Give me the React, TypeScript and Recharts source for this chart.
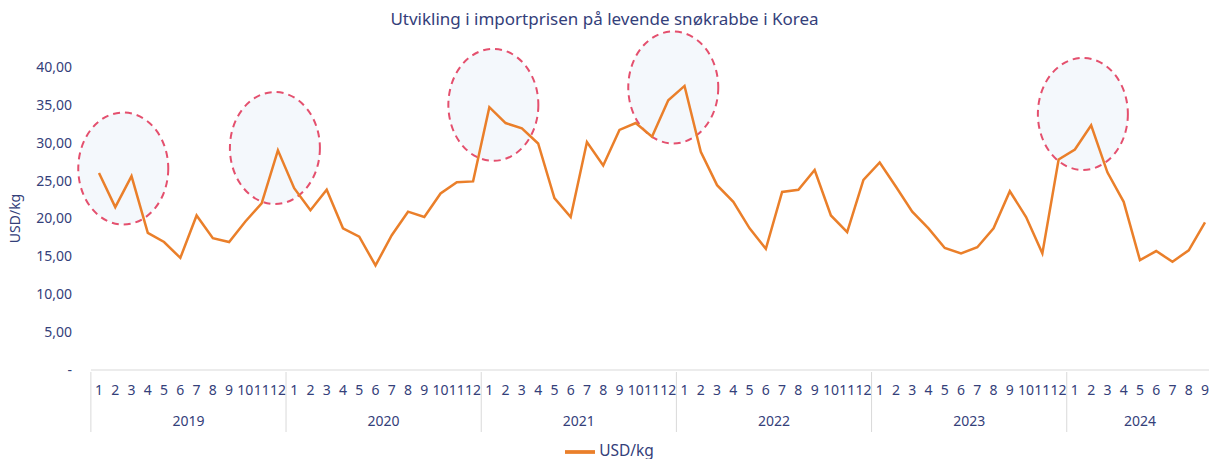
import React from "react";
import { LineChart, Line, XAxis, YAxis, Legend, ReferenceDot } from "recharts";

const years = [2019, 2020, 2021, 2022, 2023, 2024];
const monthsInYear = [12, 12, 12, 12, 12, 9];

const price2019 = [26.0, 21.5, 25.6, 18.1, 16.9, 14.8, 20.4, 17.4, 16.9, 19.6, 22.0, 29.0];
const price2020 = [24.0, 21.1, 23.8, 18.7, 17.6, 13.8, 17.8, 20.9, 20.2, 23.3, 24.8, 24.9];
const price2021 = [34.7, 32.6, 31.9, 29.9, 22.7, 20.2, 30.1, 27.0, 31.7, 32.6, 30.8, 35.6];
const price2022 = [37.5, 28.8, 24.4, 22.2, 18.7, 16.0, 23.5, 23.8, 26.4, 20.4, 18.2, 25.1];
const price2023 = [27.4, 24.2, 20.9, 18.7, 16.1, 15.4, 16.2, 18.7, 23.6, 20.2, 15.4, 27.8];
const price2024 = [29.1, 32.3, 26.1, 22.2, 14.5, 15.7, 14.3, 15.8, 19.5];

const yTicks = [0, 5, 10, 15, 20, 25, 30, 35, 40];

// highlighted peaks: anchor month, value at ellipse centre, small pixel nudge
const highlights = [
  { key: "2019-2", value: 26.6, dx: 8 },
  { key: "2019-12", value: 29.3, dx: -3 },
  { key: "2021-1", value: 35.0, dx: 4 },
  { key: "2021-12", value: 37.3, dx: 5 },
  { key: "2024-1", value: 33.8, dx: 8 },
];

const allPrices = [price2019, price2020, price2021, price2022, price2023, price2024];

const data = years.flatMap((yr, i) =>
  allPrices[i].slice(0, monthsInYear[i]).map((v, m) => ({ key: `${yr}-${m + 1}`, price: v }))
);

const W = 1209;
const H = 459;
const Y_W = 91;
const PAD_L = 8;
const PAD_R = 4;
const HALF = (W - Y_W - PAD_L - PAD_R) / (data.length - 1) / 2;
const NAVY = "#34407a";
const FONT = "'Noto Sans', sans-serif";

function fmtY(v: number) {
  if (v === 0) return "-";
  return v.toFixed(2).replace(".", ",");
}

function MonthTick(props: any) {
  const { x, y, payload } = props;
  const [yr, mo] = String(payload.value).split("-").map(Number);
  const n = monthsInYear[years.indexOf(yr)];
  let yearX: number | null = null;
  if (n % 2 === 0 && mo === n / 2) yearX = x + HALF;
  if (n % 2 === 1 && mo === (n + 1) / 2) yearX = x;
  return (
    <g>
      <text x={x} y={y + 23} textAnchor="middle" fontSize={14} fill={NAVY} fontFamily={FONT}>
        {mo}
      </text>
      {mo === 1 && (
        <line x1={x - HALF} x2={x - HALF} y1={y} y2={y + 60} stroke="#d9d9d9" strokeWidth={1} />
      )}
      {yearX !== null && (
        <text x={yearX} y={y + 54} textAnchor="middle" fontSize={14} fill={NAVY} fontFamily={FONT}>
          {yr}
        </text>
      )}
    </g>
  );
}

function ring(dx: number) {
  return (p: any) => (
    <ellipse
      cx={p.cx + dx}
      cy={p.cy}
      rx={45}
      ry={56}
      fill="#f4f8fc"
      stroke="#e4506e"
      strokeWidth={2}
      strokeDasharray="7 5"
    />
  );
}

export default function App() {
  return (
    <div style={{ position: "absolute", left: 0, top: 0, width: W, height: H, background: "#fff" }}>
      <div
        style={{
          position: "absolute",
          top: 8,
          width: W,
          textAlign: "center",
          fontFamily: FONT,
          fontSize: 17,
          lineHeight: "22px",
          color: NAVY,
        }}
      >
        Utvikling i importprisen på levende snøkrabbe i Korea
      </div>
      <LineChart width={W} height={H} data={data} margin={{ top: 67, right: 0, left: 0, bottom: 7 }}>
        <XAxis
          dataKey="key"
          interval={0}
          padding={{ left: PAD_L, right: PAD_R }}
          tickLine={false}
          tickSize={0}
          axisLine={{ stroke: "#d9d9d9" }}
          tick={<MonthTick />}
          height={60}
        />
        <YAxis
          domain={[0, 40]}
          ticks={yTicks}
          width={Y_W}
          axisLine={false}
          tickLine={false}
          tickSize={0}
          tickMargin={19}
          tickFormatter={fmtY}
          tick={{ fontSize: 14, fill: NAVY, fontFamily: FONT }}
          label={{
            value: "USD/kg",
            angle: -90,
            position: "insideLeft",
            offset: 15,
            style: { fontSize: 14, fill: NAVY, fontFamily: FONT, textAnchor: "middle" },
          }}
        />
        {highlights.map((h) => (
          <ReferenceDot
            key={h.key}
            x={h.key}
            y={h.value}
            r={1}
            ifOverflow="visible"
            zIndex={50}
            shape={ring(h.dx)}
          />
        ))}
        <Line
          type="linear"
          dataKey="price"
          name="USD/kg"
          stroke="#ea7f2a"
          strokeWidth={2.5}
          dot={false}
          isAnimationActive={false}
        />
        <Legend
          verticalAlign="bottom"
          height={22}
          iconType="plainline"
          iconSize={30}
          wrapperStyle={{ fontFamily: FONT, fontSize: 15.5, color: NAVY, bottom: 0, paddingLeft: 10 }}
          formatter={(v) => <span style={{ color: NAVY }}>{v}</span>}
        />
      </LineChart>
    </div>
  );
}
